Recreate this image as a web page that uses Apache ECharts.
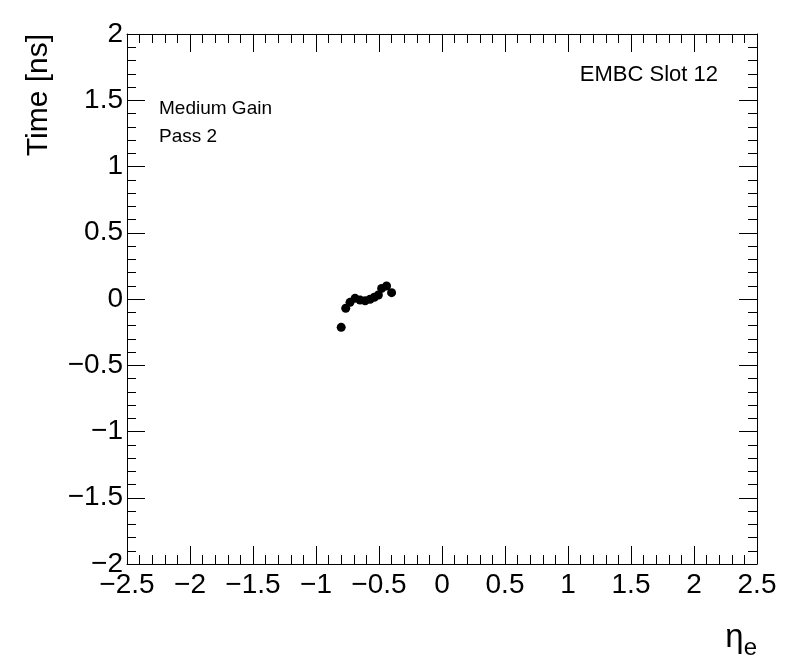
<!DOCTYPE html>
<html>
<head>
<meta charset="utf-8">
<script src="https://cdn.jsdelivr.net/npm/echarts@6/dist/echarts.min.js"></script>
<style>
  html, body { margin: 0; padding: 0; background: #fff; }
  #chart { width: 796px; height: 672px; }
</style>
</head>
<body>
<div id="chart"></div>
<script>
// eta bins and mean time (ns)
let etaValues = [-0.80, -0.764, -0.73, -0.69, -0.65, -0.61, -0.571, -0.537, -0.505, -0.479, -0.44, -0.40]
let timeValues = [-0.214, -0.070, -0.025, 0.005, -0.008, -0.013, -0.002, 0.013, 0.030, 0.080, 0.098, 0.048]

let points = etaValues.map((x, i) => [x, timeValues[i]])

let font = '"Liberation Sans", Arial, sans-serif'
let fmt = v => String(Number(v.toFixed(1))).replace('-', '\u2212')

function axisBase(show, margin) {
  return {
    axisLine: { show: true, onZero: false, lineStyle: { color: '#000', width: 1 } },
    axisTick: { show: true, inside: true, length: 18, lineStyle: { color: '#000' } },
    minorTick: { show: true, splitNumber: 5, length: 9, lineStyle: { color: '#000' } },
    splitLine: { show: false },
    minorSplitLine: { show: false },
    axisLabel: { show: show, color: '#000', fontSize: 28, fontFamily: font, margin: margin, formatter: fmt }
  }
}

let myChart = echarts.init(document.getElementById('chart'))
myChart.setOption({
  animation: false,
  backgroundColor: '#fff',
  grid: { left: 127, right: 39, top: 34, bottom: 108 },
  xAxis: [
    Object.assign(axisBase(true, 7), { type: 'value', min: -2.5, max: 2.5, interval: 0.5, position: 'bottom' }),
    Object.assign(axisBase(false, 7), { type: 'value', min: -2.5, max: 2.5, interval: 0.5, position: 'top' })
  ],
  yAxis: [
    Object.assign(axisBase(true, 4), { type: 'value', min: -2, max: 2, interval: 0.5, position: 'left' }),
    Object.assign(axisBase(false, 4), { type: 'value', min: -2, max: 2, interval: 0.5, position: 'right' })
  ],
  graphic: [
    {
      type: 'text', x: 39, y: 34, rotation: Math.PI / 2,
      style: { text: 'Time [ns]', font: '30px ' + font, fill: '#000', align: 'right', verticalAlign: 'middle' }
    },
    {
      type: 'text', x: 757, y: 638,
      style: {
        text: '{a|\u03b7}{b|e}', align: 'right', verticalAlign: 'middle',
        rich: {
          a: { font: '33px ' + font, fill: '#000' },
          b: { font: '24px ' + font, fill: '#000', padding: [20, 0, 0, 0] }
        }
      }
    },
    {
      type: 'text', x: 159, y: 109,
      style: { text: 'Medium Gain', font: '19px ' + font, fill: '#000', verticalAlign: 'middle' }
    },
    {
      type: 'text', x: 159, y: 137,
      style: { text: 'Pass 2', font: '19px ' + font, fill: '#000', verticalAlign: 'middle' }
    },
    {
      type: 'text', x: 718, y: 75,
      style: { text: 'EMBC Slot 12', font: '22px ' + font, fill: '#000', align: 'right', verticalAlign: 'middle' }
    }
  ],
  series: [
    {
      type: 'scatter',
      data: points,
      symbol: 'circle',
      symbolSize: 9,
      itemStyle: { color: '#000', opacity: 1 }
    }
  ]
})
</script>
</body>
</html>
